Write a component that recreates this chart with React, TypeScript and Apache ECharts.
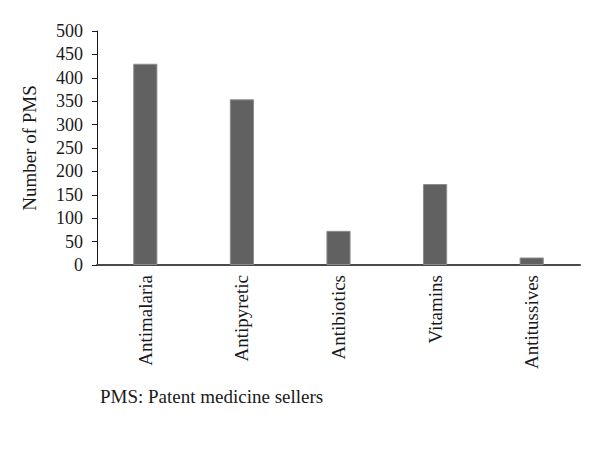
import React, { useEffect, useRef } from "react";
import * as echarts from "echarts";

const categories = ["Antimalaria", "Antipyretic", "Antibiotics", "Vitamins", "Antitussives"];
const values = [430, 354, 73, 173, 16];
const yTicks = [0, 50, 100, 150, 200, 250, 300, 350, 400, 450, 500];
const yAxisTitle = "Number of PMS";
const footnote = "PMS: Patent medicine sellers";

const FONT = "'Liberation Serif', 'Times New Roman', serif";

export default function App() {
  const ref = useRef<HTMLDivElement>(null);
  useEffect(() => {
    if (!ref.current) return;
    const chart = echarts.init(ref.current, undefined, { renderer: "svg" });
    chart.setOption({
      animation: false,
      backgroundColor: "#ffffff",
      grid: { left: 97, top: 31, right: 20, bottom: 191, containLabel: false },
      xAxis: {
        type: "category",
        data: categories,
        axisLine: { show: true, lineStyle: { color: "#4a4a4a", width: 2 } },
        axisTick: { show: false },
        axisLabel: {
          rotate: 90,
          margin: 10,
          fontFamily: FONT,
          fontSize: 19,
          color: "#1a1a1a",
        },
      },
      yAxis: {
        type: "value",
        min: yTicks[0],
        max: yTicks[yTicks.length - 1],
        interval: 50,
        name: yAxisTitle,
        nameLocation: "middle",
        nameGap: 58,
        nameTextStyle: { fontFamily: FONT, fontSize: 19, color: "#1a1a1a" },
        splitLine: { show: false },
        axisLine: { show: true, lineStyle: { color: "#1a1a1a", width: 1 } },
        axisTick: { show: true, inside: false, length: 5, lineStyle: { color: "#1a1a1a" } },
        axisLabel: { margin: 14, fontFamily: FONT, fontSize: 18, color: "#1a1a1a" },
      },
      series: [
        {
          type: "bar",
          data: values,
          barWidth: "25%",
          itemStyle: { color: "#616161", borderColor: "#8c8c8c", borderWidth: 1 },
        },
      ],
      graphic: [
        {
          type: "text",
          left: 100,
          top: 387,
          style: { text: footnote, font: `19px ${FONT}`, fill: "#1a1a1a" },
        },
      ],
    });
    return () => chart.dispose();
  }, []);
  return (
    <div
      ref={ref}
      style={{ position: "absolute", left: 0, top: 0, width: 600, height: 456 }}
    />
  );
}
